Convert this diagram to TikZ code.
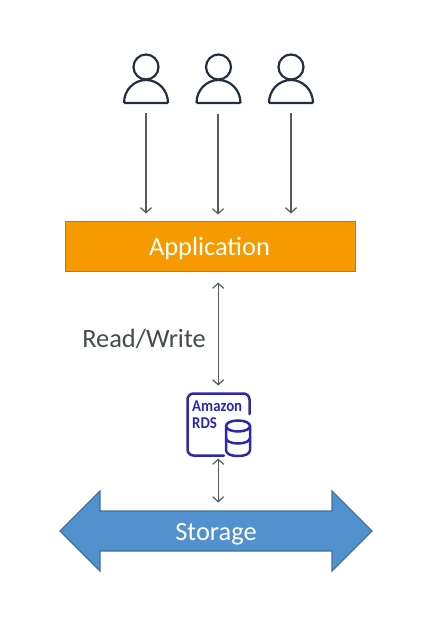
\documentclass[tikz,border=0pt]{standalone}
\usepackage{fontspec}
\setmainfont{Carlito}
\newfontfamily\rdsfont[FakeStretch=0.9]{Carlito}
\usetikzlibrary{arrows.meta}
\definecolor{usercol}{HTML}{232F3E}
\definecolor{arrowcol}{HTML}{545B64}
\definecolor{appfill}{HTML}{F79900}
\definecolor{appline}{HTML}{C5790B}
\definecolor{rdscol}{HTML}{2E27AD}
\definecolor{storefill}{HTML}{5290CE}
\definecolor{storeline}{HTML}{41719C}
\definecolor{labelcol}{HTML}{444B4B}
\tikzset{
  barb/.tip={Straight Barb[length=5pt,width=11pt,line width=1.2pt]},
  conn/.style={draw=arrowcol,line width=1.2pt,-barb},
  connboth/.style={draw=arrowcol,line width=1.2pt,barb-barb},
  userline/.style={draw=usercol,line width=2.2pt,line join=round},
  rdsline/.style={draw=rdscol,line width=2.5pt,line join=round},
  pics/person/.style={code={
    \draw[userline] (0,-36) circle[radius=12.5];
    \draw[userline] (-22,0) -- (22,0) (-22,0) .. controls (-22,-13) and (-12,-23) .. (0,-23) .. controls (12,-23) and (22,-13) .. (22,0);
  }}
}
\begin{document}
\begin{tikzpicture}[x=1pt,y=-1pt]
\useasboundingbox (0,0) rectangle (423,627);
% users
\pic at (146,103) {person};
\pic at (218.5,103) {person};
\pic at (291,103) {person};
\coordinate (u1) at (146,113);
\coordinate (u2) at (218,114);
\coordinate (u3) at (291,113);
\coordinate (a1) at (146,213.5);
\coordinate (a2) at (218,214.5);
\coordinate (a3) at (291,213.5);
% application
\node[draw=appline,fill=appfill,line width=1.4pt,minimum width=290pt,minimum height=50pt,inner sep=0pt,anchor=north west] (app) at (65,221) {};
\node[text=white,font=\fontsize{26.4}{30}\selectfont,inner sep=0pt] (applabel) at (209.5,248) {Application};
\coordinate (rw1) at (218.2,282.5);
\coordinate (rw2) at (218.2,385.5);
\coordinate (st1) at (218.2,458.5);
\coordinate (st2) at (218.2,502.5);
\draw[conn] (u1) -- (a1);
\draw[conn] (u2) -- (a2);
\draw[conn] (u3) -- (a3);
\draw[connboth] (rw1) -- (rw2);
\draw[connboth] (st1) -- (st2);
\node[text=labelcol,font=\fontsize{26.4}{30}\selectfont,inner sep=0pt] (rwlabel) at (144,339) {Read/Write};
% RDS icon
\draw[rdsline,line cap=round,rounded corners=6pt] (224,455.5) -- (187.5,455.5) -- (187.5,393.5) -- (249.5,393.5) -- (249.5,414);
\node[text=rdscol,font=\rdsfont\bfseries\fontsize{16.5}{16.5}\selectfont,inner sep=0pt,anchor=base west] (amazon) at (192,411.5) {Amazon};
\node[text=rdscol,font=\rdsfont\bfseries\fontsize{16.5}{16.5}\selectfont,inner sep=0pt,anchor=base west] (rds) at (192,428) {RDS};
\draw[rdsline] (226,426) -- (226,450) .. controls (226,454) and (231,456) .. (238,456) .. controls (245,456) and (250,454) .. (250,450) -- (250,426);
\draw[rdsline] (238,420.5) .. controls (245,420.5) and (250,423) .. (250,426) .. controls (250,429) and (245,431.5) .. (238,431.5) .. controls (231,431.5) and (226,429) .. (226,426) .. controls (226,423) and (231,420.5) .. (238,420.5);
\draw[rdsline] (226,438) .. controls (226,441) and (231,443.5) .. (238,443.5) .. controls (245,443.5) and (250,441) .. (250,438);
% storage
\draw[draw=storeline,fill=storefill,line width=1.2pt,line join=miter] (60,531) -- (100,491) -- (100,511) -- (332,511) -- (332,491) -- (372,531) -- (332,571) -- (332,551) -- (100,551) -- (100,571) -- cycle;
\node[text=white,font=\fontsize{26.4}{30}\selectfont,inner sep=0pt] (storage) at (216,534.5) {Storage};
\end{tikzpicture}
\end{document}
